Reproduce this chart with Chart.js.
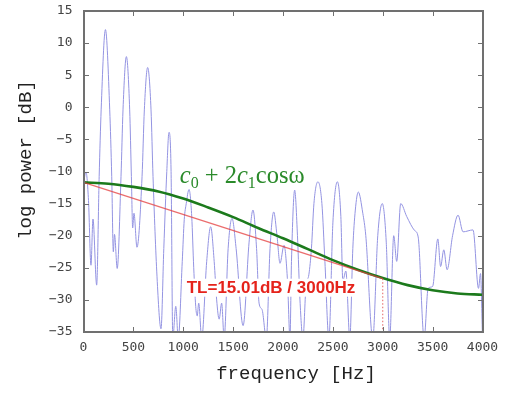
<!DOCTYPE html>
<html><head><meta charset="utf-8">
<script src="https://cdn.jsdelivr.net/npm/chart.js@4.4.0/dist/chart.umd.min.js"></script>
<style>html,body{margin:0;padding:0;background:#fff}#wrap{width:506px;height:394px}</style>
</head><body><div id="wrap"><canvas id="c" width="506" height="394"></canvas></div>
<script>
// ---- data ----
const spectrumFreq = [0,25,50,75,95,132,157,177,220,263,283,299,311,338,376,396,430,463,480,493,506,536,587,610,643,677,697,737,777,805,835,857,878,895,925,950,990,1010,1030,1058,1085,1105,1125,1140,1155,1185,1235,1275,1310,1335,1360,1385,1410,1450,1489,1530,1600,1660,1699,1735,1760,1790,1833,1870,1907,1940,1970,2010,2045,2070,2085,2117,2145,2170,2200,2230,2260,2285,2310,2350,2390,2420,2460,2500,2545,2580,2600,2630,2670,2700,2725,2755,2800,2830,2900,2950,2995,3035,3070,3110,3140,3180,3240,3320,3355,3415,3455,3500,3552,3580,3612,3645,3700,3755,3805,3905,3960,3980,4000];
const spectrumDb   = [-11.7,-10.1,-14.5,-24.6,-17.4,-27.7,-10.8,-0.4,12.1,-0.4,-10.8,-22.5,-19.8,-25.1,-10.8,-0.4,7.9,-0.4,-10.8,-18.8,-16.5,-21.8,-10.8,-0.4,6.2,-0.4,-10.8,-26.4,-34.5,-22,-10,-3.9,-10,-36,-31,-36,-24,-17.5,-15,-12.8,-17,-25,-31,-32.5,-30.5,-36,-24,-18.6,-24,-30,-33,-30.5,-36,-22,-17.3,-22,-34,-21,-16.0,-22,-30.5,-31.5,-36,-22,-16.3,-20,-24.3,-21.5,-27,-36,-24,-12.9,-20,-30,-36,-28,-26,-22,-15,-11.6,-15,-24,-36,-18,-11.6,-17,-27,-25.5,-36,-22,-16,-13.2,-16.5,-20,-36,-20,-15.0,-21,-36,-20,-24,-15.0,-17,-19.2,-20.2,-36,-28.2,-27.9,-20.5,-24.8,-22.2,-25.3,-20,-16.8,-19.4,-19.1,-28.2,-25.9,-36];
const envelopeFreq = [0,250,500,750,1000,1250,1500,1750,2000,2250,2500,2750,3000,3250,3500,3750,4000];
const envelopeDb   = [-11.7,-11.9,-12.4,-13.1,-14.2,-15.6,-17.1,-18.8,-20.4,-22.1,-23.8,-25.3,-26.6,-27.7,-28.5,-29.0,-29.2];
const tiltFreq = [0, 3000];
const tiltDb   = [-11.7, -26.7];
const markerFreq = [3000, 3000];
const markerDb   = [-26.7, -35];
const xTickValues = [0,500,1000,1500,2000,2500,3000,3500,4000];
const yTickValues = [-35,-30,-25,-20,-15,-10,-5,0,5,10,15];
const xTitle = 'frequency [Hz]';
const yTitle = 'log power [dB]';
const envLabel = ['c','0',' + 2','c','1','cos\u03c9'];
const tlLabel = 'TL=15.01dB / 3000Hz';

const pts = (xs, ys) => xs.map((x, i) => ({x, y: ys[i]}));

const decor = {
  id: 'decor',
  afterDatasetsDraw(chart) {
    const {ctx, scales: {x, y}} = chart;
    ctx.save();
    let px = x.getPixelForValue(965), py = y.getPixelForValue(-11.85);
    ctx.fillStyle = '#2a8a2a';
    ctx.textBaseline = 'alphabetic';
    const styles = [
      ['italic 24.5px "Liberation Serif"', 0],
      ['16px "Liberation Serif"', 5],
      ['24.5px "Liberation Serif"', 0],
      ['italic 24.5px "Liberation Serif"', 0],
      ['16px "Liberation Serif"', 5],
      ['24.5px "Liberation Serif"', 0]
    ];
    envLabel.forEach((t, i) => {
      ctx.font = styles[i][0];
      ctx.fillText(t, px, py + styles[i][1]);
      px += ctx.measureText(t).width;
    });
    ctx.font = 'bold 17px "Liberation Sans"';
    const w = ctx.measureText(tlLabel).width;
    const cx = x.getPixelForValue(1880), cy = y.getPixelForValue(-28.1);
    ctx.fillStyle = '#ffffff';
    ctx.fillRect(cx - w/2 - 2, cy - 9, w + 4, 18);
    ctx.fillStyle = '#e5231b';
    ctx.textAlign = 'center';
    ctx.textBaseline = 'middle';
    ctx.fillText(tlLabel, cx, cy + 1);
    ctx.restore();
  },
  afterDraw(chart) {
    const {ctx, scales: {x, y}} = chart;
    ctx.save();
    const L = Math.round(x.getPixelForValue(0)), R = Math.round(x.getPixelForValue(4000));
    const T = Math.round(y.getPixelForValue(15)), B = Math.round(y.getPixelForValue(-35));
    ctx.strokeStyle = '#707070';
    ctx.lineWidth = 2;
    ctx.beginPath();
    ctx.moveTo(L, T); ctx.lineTo(R, T); ctx.lineTo(R, B); ctx.lineTo(L, B); ctx.closePath();
    ctx.stroke();
    ctx.lineWidth = 1;
    ctx.beginPath();
    xTickValues.forEach(v => {
      const p = Math.round(x.getPixelForValue(v)) + 0.5;
      ctx.moveTo(p, B); ctx.lineTo(p, B - 5);
      ctx.moveTo(p, T); ctx.lineTo(p, T + 5);
    });
    yTickValues.forEach(v => {
      const p = Math.round(y.getPixelForValue(v)) + 0.5;
      ctx.moveTo(L, p); ctx.lineTo(L + 5, p);
      ctx.moveTo(R, p); ctx.lineTo(R - 5, p);
    });
    ctx.stroke();
    ctx.fillStyle = '#222';
    ctx.font = '19px "Liberation Mono"';
    ctx.textAlign = 'center';
    ctx.textBaseline = 'middle';
    ctx.fillText(xTitle, 296, 374);
    ctx.translate(26, 160);
    ctx.rotate(-Math.PI / 2);
    ctx.fillText(yTitle, 0, 0);
    ctx.restore();
  }
};

new Chart(document.getElementById('c'), {
  type: 'line',
  data: {
    datasets: [
      {data: pts(markerFreq, markerDb), borderColor: 'rgba(225,80,80,0.9)', borderWidth: 1, borderDash: [1.5, 2], pointRadius: 0, order: 0},
      {data: pts(tiltFreq, tiltDb), borderColor: 'rgba(228,60,60,0.75)', borderWidth: 1.3, pointRadius: 0, order: 1},
      {data: pts(envelopeFreq, envelopeDb), borderColor: '#1c7a1c', borderWidth: 2.6, pointRadius: 0, cubicInterpolationMode: 'monotone', order: 2},
      {data: pts(spectrumFreq, spectrumDb), borderColor: '#9494e2', borderWidth: 1, pointRadius: 0, cubicInterpolationMode: 'monotone', order: 3}
    ]
  },
  options: {
    responsive: false,
    devicePixelRatio: 1,
    animation: false,
    layout: {padding: {top: 11, right: 23.5, left: 0, bottom: 0}},
    plugins: {legend: {display: false}, tooltip: {enabled: false}},
    scales: {
      x: {
        type: 'linear', min: 0, max: 4000,
        afterFit(s) { s.height = 62; s.paddingLeft = 0; s.paddingRight = 0; },
        afterBuildTicks(s) { s.ticks = xTickValues.map(v => ({value: v})); },
        grid: {display: false, drawTicks: false},
        border: {display: false},
        ticks: {padding: 8, maxRotation: 0, autoSkip: false, color: '#444', font: {family: '"DejaVu Sans Mono"', size: 13},
          callback: v => String(v)}
      },
      y: {
        type: 'linear', min: -35, max: 15,
        afterFit(s) { s.width = 83.5; s.paddingTop = 0; s.paddingBottom = 0; },
        afterBuildTicks(s) { s.ticks = yTickValues.map(v => ({value: v})); },
        grid: {display: false, drawTicks: false},
        border: {display: false},
        ticks: {padding: 11, autoSkip: false, color: '#444', font: {family: '"DejaVu Sans Mono"', size: 13},
          callback: v => String(v).replace('-', '\u2212')}
      }
    }
  },
  plugins: [decor]
});
</script></body></html>
